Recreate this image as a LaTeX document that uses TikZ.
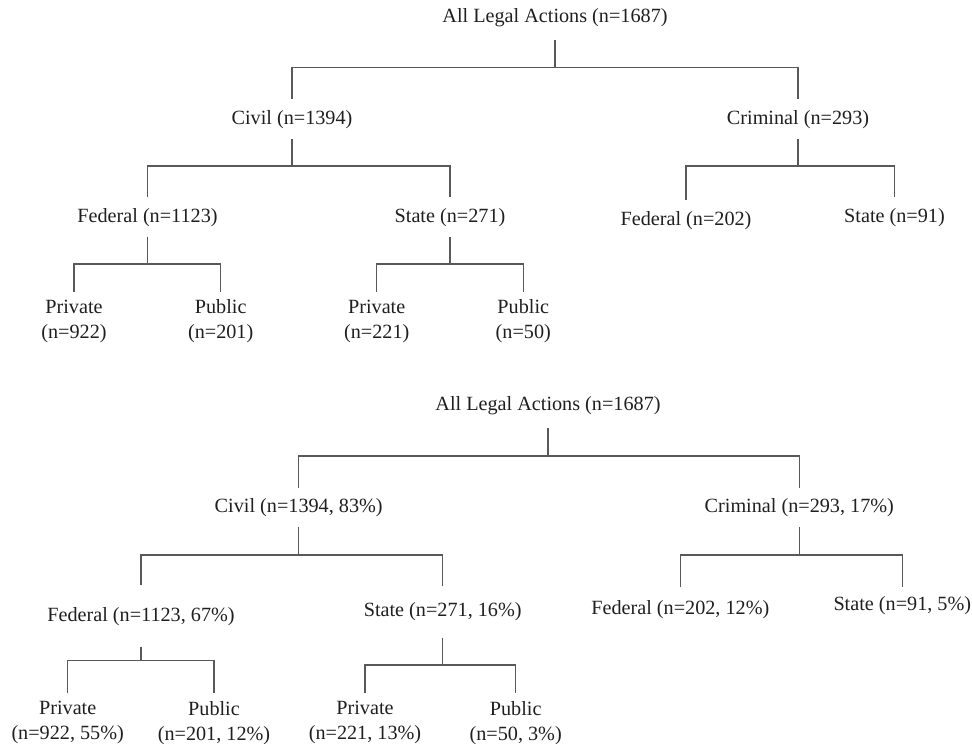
\documentclass[tikz,border=0pt]{standalone}
\usepackage{fontspec}
\setmainfont{Liberation Serif}
\usetikzlibrary{positioning}

% parent stub, bar at height #2, drops to the two children
\newcommand{\branch}[4]{%
  \draw[link] (#1.south) -- (#1.south |- 0,#2);
  \draw[link] (#3.north) -- (#3.north |- 0,#2) -- (#4.north |- 0,#2) -- (#4.north);
}

\begin{document}
\begin{tikzpicture}[
  x=1pt, y=-1pt,
  lbl/.style={font=\fontsize{20.2}{25}\selectfont, text=black!88,
              inner xsep=0pt, inner ysep=10.5pt, text height=14pt, text depth=4pt},
  rootlbl/.style={lbl, inner ysep=13pt},
  leaf/.style={font=\fontsize{20.2}{25}\selectfont, text=black!88,
               align=center, anchor=north, inner xsep=0pt, inner ysep=8pt},
  link/.style={draw=black!65, line width=1.5pt}
]
\useasboundingbox (0,0) rectangle (972,744);

% counts only
\node[rootlbl] (root1) at (555,18) {All Legal Actions (n=1687)};
\node[lbl] (civ1)  at (292,119) {Civil (n=1394)};
\node[lbl] (crim1) at (798,119) {Criminal (n=293)};
\node[lbl] (fed1)  at (147.5,217) {Federal (n=1123)};
\node[lbl] (st1)   at (450,217) {State (n=271)};
\node[lbl] (cfed1) at (686,220) {Federal (n=202)};
\node[lbl] (cst1)  at (894.5,217) {State (n=91)};
\node[leaf] (fpriv1) at (74,291.7)    {Private\\(n=922)};
\node[leaf] (fpub1)  at (220.7,291.7) {Public\\(n=201)};
\node[leaf] (spriv1) at (376.7,291.7) {Private\\(n=221)};
\node[leaf] (spub1)  at (523.3,291.7) {Public\\(n=50)};

\branch{root1}{67.7}{civ1}{crim1}
\branch{civ1}{166}{fed1}{st1}
\branch{crim1}{166}{cfed1}{cst1}
\branch{fed1}{264}{fpriv1}{fpub1}
\branch{st1}{264}{spriv1}{spub1}

% counts and shares
\node[rootlbl, inner ysep=14pt] (root2) at (548,405) {All Legal Actions (n=1687)};
\node[lbl] (civ2)  at (298.7,507.7) {Civil (n=1394, 83\%)};
\node[lbl] (crim2) at (799.3,507.7) {Criminal (n=293, 17\%)};
\node[lbl, inner ysep=22pt] (fed2)  at (141,616) {Federal (n=1123, 67\%)};
\node[lbl, inner ysep=17pt] (st2)   at (442.7,611.7) {State (n=271, 16\%)};
\node[lbl, inner ysep=13pt] (cfed2) at (680.3,609.3) {Federal (n=202, 12\%)};
\node[lbl, inner ysep=9pt]  (cst2)  at (902.3,605) {State (n=91, 5\%)};
\node[leaf] (fpriv2) at (67.7,693.3)  {Private\\(n=922, 55\%)};
\node[leaf] (fpub2)  at (214,693.3)   {Public\\(n=201, 12\%)};
\node[leaf] (spriv2) at (365,693.3)   {Private\\(n=221, 13\%)};
\node[leaf] (spub2)  at (515.7,693.3) {Public\\(n=50, 3\%)};

\branch{root2}{456}{civ2}{crim2}
\branch{civ2}{555}{fed2}{st2}
\branch{crim2}{555}{cfed2}{cst2}
\branch{fed2}{660.7}{fpriv2}{fpub2}
\branch{st2}{665}{spriv2}{spub2}

\end{tikzpicture}
\end{document}
